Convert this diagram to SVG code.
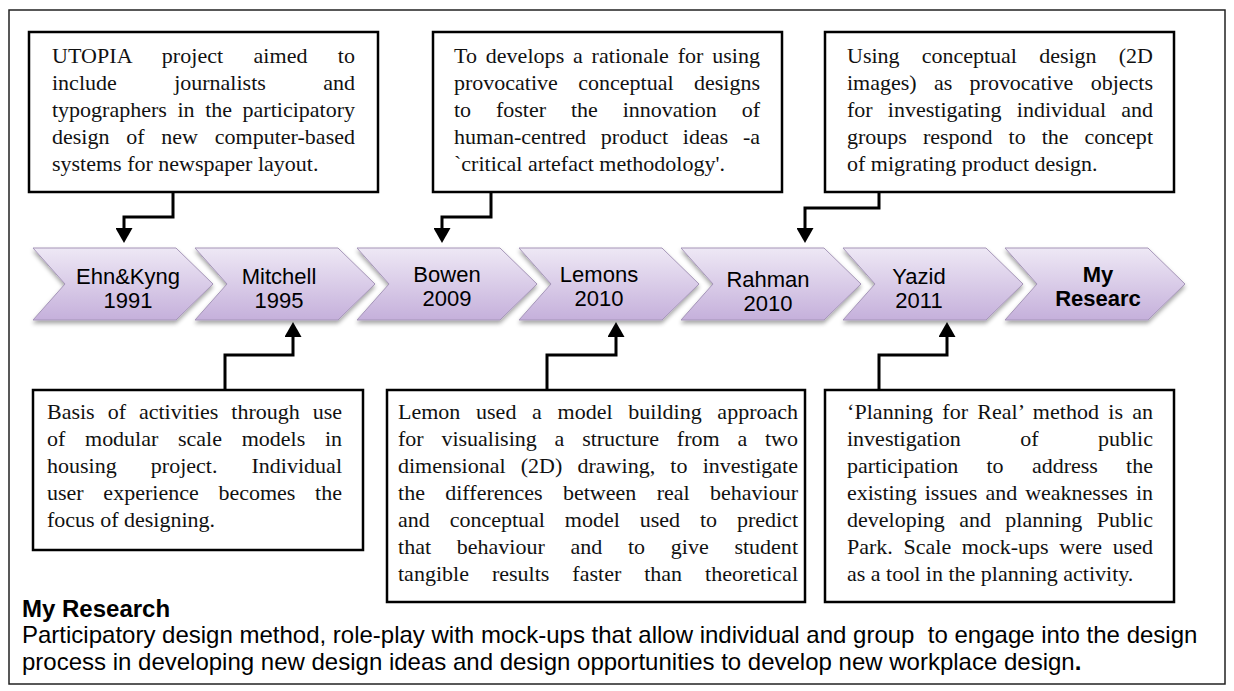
<svg xmlns="http://www.w3.org/2000/svg" width="1234" height="691" viewBox="0 0 1234 691">
<defs>
<linearGradient id="cg" x1="0" y1="0" x2="0" y2="1">
<stop offset="0" stop-color="#eee8f5"/>
<stop offset="1" stop-color="#c5b0db"/>
</linearGradient>
<filter id="sh" x="-10%" y="-10%" width="120%" height="140%">
<feDropShadow dx="0" dy="3" stdDeviation="2" flood-color="#000" flood-opacity="0.35"/>
</filter>
<marker id="ah" viewBox="0 0 15 17" markerWidth="15" markerHeight="17" refX="0" refY="8.5" orient="auto" markerUnits="userSpaceOnUse">
<path d="M0,0 L15,8.5 L0,17 Z" fill="#000"/>
</marker>
</defs>
<style>
.frame{fill:none;stroke:#222;stroke-width:1.5}
.box{fill:#fff;stroke:#000;stroke-width:2.5}
.bt{font-family:"Liberation Serif","Times New Roman",serif;font-size:22px;fill:#111}
.chev{fill:url(#cg);stroke:#a595b8;stroke-width:1;filter:url(#sh)}
.cl{font-family:"Liberation Sans",Arial,sans-serif;font-size:22px;fill:#000;text-anchor:middle}
.clb{font-weight:bold}
.con{fill:none;stroke:#000;stroke-width:3;marker-end:url(#ah)}
.ft{font-family:"Liberation Sans",Arial,sans-serif;font-size:24px;fill:#000}
</style>
<rect x="0" y="0" width="1234" height="691" fill="#fff"/>
<rect class="frame" x="9" y="10" width="1216" height="674"/>

<g id="box-utopia">
<rect class="box" x="29" y="32" width="349" height="160"/>
<text class="bt" x="52" y="63" textLength="303" lengthAdjust="spacing" word-spacing="24.6">UTOPIA project aimed to</text>
<text class="bt" x="52" y="90" textLength="303" lengthAdjust="spacing" word-spacing="51.9">include journalists and</text>
<text class="bt" x="52" y="117" textLength="303" lengthAdjust="spacing" word-spacing="5.1">typographers in the participatory</text>
<text class="bt" x="52" y="144" textLength="303" lengthAdjust="spacing" word-spacing="11.2">design of new computer-based</text>
<text class="bt" x="52" y="171">systems for newspaper layout.</text>
</g>

<g id="box-bowen">
<rect class="box" x="433" y="32" width="349" height="160"/>
<text class="bt" x="454" y="63" textLength="306" lengthAdjust="spacing" word-spacing="3.2">To develops a rationale for using</text>
<text class="bt" x="454" y="90" textLength="306" lengthAdjust="spacing" word-spacing="14.9">provocative conceptual designs</text>
<text class="bt" x="454" y="117" textLength="306" lengthAdjust="spacing" word-spacing="19.4">to foster the innovation of</text>
<text class="bt" x="454" y="144" textLength="306" lengthAdjust="spacing" word-spacing="9.3">human-centred product ideas -a</text>
<text class="bt" x="454" y="171">`critical artefact methodology'.</text>
</g>

<g id="box-rahman">
<rect class="box" x="825" y="32" width="349" height="160"/>
<text class="bt" x="847" y="63" textLength="306" lengthAdjust="spacing" word-spacing="16.7">Using conceptual design (2D</text>
<text class="bt" x="847" y="90" textLength="306" lengthAdjust="spacing" word-spacing="11.8">images) as provocative objects</text>
<text class="bt" x="847" y="117" textLength="306" lengthAdjust="spacing" word-spacing="9.7">for investigating individual and</text>
<text class="bt" x="847" y="144" textLength="306" lengthAdjust="spacing" word-spacing="10.5">groups respond to the concept</text>
<text class="bt" x="847" y="171">of migrating product design.</text>
</g>

<g id="box-mitchell">
<rect class="box" x="33" y="390" width="330" height="160"/>
<text class="bt" x="47" y="419" textLength="295" lengthAdjust="spacing" word-spacing="7.5">Basis of activities through use</text>
<text class="bt" x="47" y="446" textLength="295" lengthAdjust="spacing" word-spacing="14.2">of modular scale models in</text>
<text class="bt" x="47" y="473" textLength="295" lengthAdjust="spacing" word-spacing="28.6">housing project. Individual</text>
<text class="bt" x="47" y="500" textLength="295" lengthAdjust="spacing" word-spacing="14.2">user experience becomes the</text>
<text class="bt" x="47" y="527">focus of designing.</text>
</g>

<g id="box-lemons">
<rect class="box" x="387" y="390" width="418" height="212"/>
<text class="bt" x="398" y="419" textLength="400" lengthAdjust="spacing" word-spacing="10.2">Lemon used a model building approach</text>
<text class="bt" x="398" y="446" textLength="400" lengthAdjust="spacing" word-spacing="12.3">for visualising a structure from a two</text>
<text class="bt" x="398" y="473" textLength="400" lengthAdjust="spacing" word-spacing="9.7">dimensional (2D) drawing, to investigate</text>
<text class="bt" x="398" y="500" textLength="400" lengthAdjust="spacing" word-spacing="14.8">the differences between real behaviour</text>
<text class="bt" x="398" y="527" textLength="400" lengthAdjust="spacing" word-spacing="14.4">and conceptual model used to predict</text>
<text class="bt" x="398" y="554" textLength="400" lengthAdjust="spacing" word-spacing="20.2">that behaviour and to give student</text>
<text class="bt" x="398" y="581" textLength="400" lengthAdjust="spacing" word-spacing="17.5">tangible results faster than theoretical</text>
</g>

<g id="box-yazid">
<rect class="box" x="825" y="390" width="349" height="212"/>
<text class="bt" x="847" y="419" textLength="306" lengthAdjust="spacing" word-spacing="3.6">‘Planning for Real’ method is an</text>
<text class="bt" x="847" y="446" textLength="306" lengthAdjust="spacing" word-spacing="54">investigation of public</text>
<text class="bt" x="847" y="473" textLength="306" lengthAdjust="spacing" word-spacing="22.8">participation to address the</text>
<text class="bt" x="847" y="500" textLength="306" lengthAdjust="spacing" word-spacing="2.6">existing issues and weaknesses in</text>
<text class="bt" x="847" y="527" textLength="306" lengthAdjust="spacing" word-spacing="8.9">developing and planning Public</text>
<text class="bt" x="847" y="554" textLength="306" lengthAdjust="spacing" word-spacing="5.2">Park. Scale mock-ups were used</text>
<text class="bt" x="847" y="581">as a tool in the planning activity.</text>
</g>

<g id="chev-ehn" transform="translate(33,0)">
<path class="chev" d="M0,248 H143 L180,284 L143,320 H0 L32,284 Z"/>
<text class="cl"><tspan x="95" y="284">Ehn&amp;Kyng</tspan><tspan x="95" y="308">1991</tspan></text>
</g>
<g id="chev-mitchell" transform="translate(195,0)">
<path class="chev" d="M0,248 H143 L180,284 L143,320 H0 L32,284 Z"/>
<text class="cl"><tspan x="84" y="284">Mitchell</tspan><tspan x="84" y="308">1995</tspan></text>
</g>
<g id="chev-bowen" transform="translate(357,0)">
<path class="chev" d="M0,248 H143 L180,284 L143,320 H0 L32,284 Z"/>
<text class="cl"><tspan x="90" y="282">Bowen</tspan><tspan x="90" y="306">2009</tspan></text>
</g>
<g id="chev-lemons" transform="translate(519,0)">
<path class="chev" d="M0,248 H143 L180,284 L143,320 H0 L32,284 Z"/>
<text class="cl"><tspan x="80" y="282">Lemons</tspan><tspan x="80" y="306">2010</tspan></text>
</g>
<g id="chev-rahman" transform="translate(681,0)">
<path class="chev" d="M0,248 H143 L180,284 L143,320 H0 L32,284 Z"/>
<text class="cl"><tspan x="87" y="287">Rahman</tspan><tspan x="87" y="311">2010</tspan></text>
</g>
<g id="chev-yazid" transform="translate(843,0)">
<path class="chev" d="M0,248 H143 L180,284 L143,320 H0 L32,284 Z"/>
<text class="cl"><tspan x="76" y="284">Yazid</tspan><tspan x="76" y="308">2011</tspan></text>
</g>
<g id="chev-my" transform="translate(1005,0)">
<path class="chev" d="M0,248 H143 L180,284 L143,320 H0 L32,284 Z"/>
<text class="cl clb"><tspan x="93" y="282">My</tspan><tspan x="93" y="306">Researc</tspan></text>
</g>

<g id="connectors">
<path class="con" d="M173,192 V217 H124 V228"/>
<path class="con" d="M491,192 V217 H442 V228"/>
<path class="con" d="M879,192 V208 H805 V228"/>
<path class="con" d="M225,390 V355 H293 V337"/>
<path class="con" d="M547,390 V355 H616 V337"/>
<path class="con" d="M879,390 V355 H947 V337"/>
</g>

<g id="my-research-note">
<text class="ft" x="22" y="617" font-weight="bold">My Research</text>
<text class="ft" x="22" y="643" xml:space="preserve">Participatory design method, role-play with mock-ups that allow individual and group  to engage into the design</text>
<text class="ft" x="22" y="670">process in developing new design ideas and design opportunities to develop new workplace design<tspan font-weight="bold">.</tspan></text>
</g>
</svg>
